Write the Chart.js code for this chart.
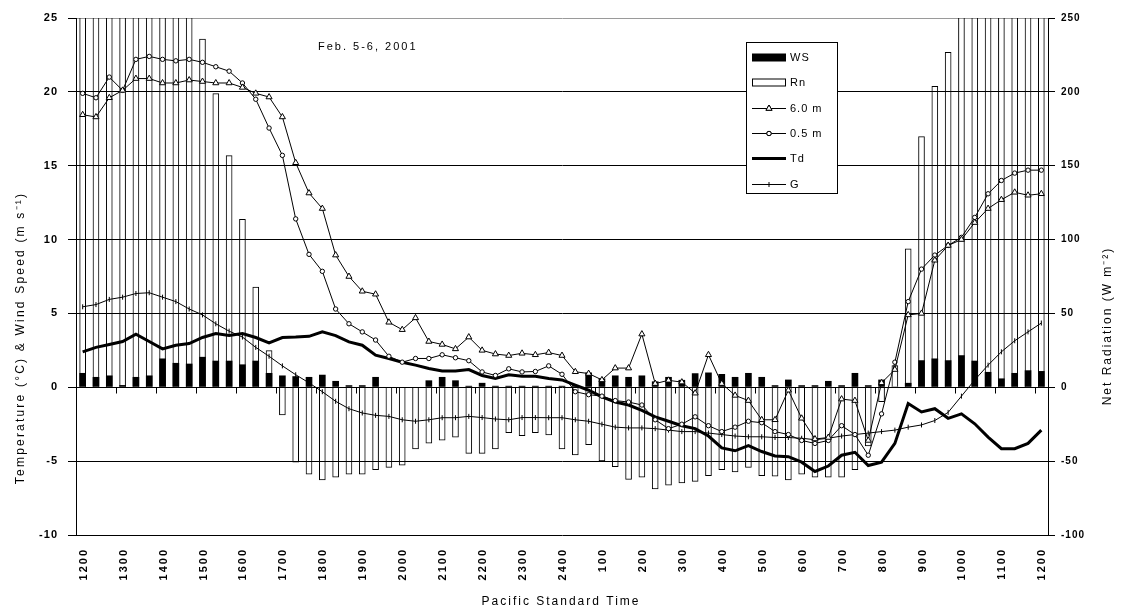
<!DOCTYPE html>
<html>
<head>
<meta charset="utf-8">
<script src="https://cdn.jsdelivr.net/npm/chart.js@4.4.1/dist/chart.umd.min.js"></script>
<style>
  html, body { margin: 0; padding: 0; background: #fff; }
  canvas { display: block; }
</style>
</head>
<body>
<canvas id="c" width="1125" height="613"></canvas>
<script>
// 20-minute observations, Feb. 5-6, 2001 (Pacific Standard Time)
const times = ['1200','1220','1240','1300','1320','1340','1400','1420','1440','1500','1520','1540',
  '1600','1620','1640','1700','1720','1740','1800','1820','1840','1900','1920','1940',
  '2000','2020','2040','2100','2120','2140','2200','2220','2240','2300','2320','2340',
  '2400','0020','0040','0100','0120','0140','0200','0220','0240','0300','0320','0340',
  '0400','0420','0440','0500','0520','0540','0600','0620','0640','0700','0720','0740',
  '0800','0820','0840','0900','0920','0940','1000','1020','1040','1100','1120','1140','1200 '];

// hourly tick labels along the time axis
const hourLabels = ['1200','1300','1400','1500','1600','1700','1800','1900','2000','2100','2200','2300',
  '2400','100','200','300','400','500','600','700','800','900','1000','1100','1200'];

// wind speed (m s-1)
const ws = [0.97,0.7,0.8,0.15,0.7,0.8,1.95,1.65,1.6,2.06,1.8,1.8,
  1.55,1.8,0.97,0.8,0.75,0.7,0.85,0.43,0.14,0.14,0.7,0,
  0,0,0.47,0.7,0.47,0.1,0.3,0.1,0.1,0.1,0.1,0.1,
  0.1,0.15,1.0,0.6,0.8,0.7,0.8,0.4,0.7,0.5,0.95,1.0,
  0.9,0.7,0.97,0.7,0.14,0.52,0.14,0.14,0.43,0.14,0.97,0.14,
  0.52,0.05,0.3,1.83,1.95,1.83,2.17,1.8,1.04,0.6,0.97,1.15,1.1];

// net radiation (W m-2)
const rn = [340,345,345,340,330,320,305,290,275,236,199,157,
  114,68,25,-19,-51,-59,-63,-61,-59,-59,-56,-54.5,
  -53,-42,-38,-36,-34,-45,-45,-42,-31,-33,-31,-32.5,
  -42,-46,-39,-50,-54,-62.6,-61,-69,-66.5,-65,-64,-60,
  -56,-57.5,-54.5,-60,-60.4,-63,-59,-61,-61,-61,-56,-40,
  -10,15,94,170,204,227,262,285,305,320,332,342,348];

// air temperature at 6.0 m (deg C)
const t60 = [18.45,18.3,19.6,20.1,20.9,20.9,20.6,20.6,20.8,20.7,20.6,20.6,
  20.3,19.9,19.65,18.3,15.2,13.15,12.1,8.95,7.5,6.5,6.3,4.4,
  3.9,4.7,3.1,2.9,2.6,3.4,2.5,2.25,2.15,2.3,2.2,2.35,
  2.15,1.05,0.93,0.5,1.3,1.3,3.6,0.25,0.47,0.35,-0.4,2.2,
  0.25,-0.55,-0.9,-2.2,-2.2,-0.2,-2.1,-3.5,-3.4,-0.8,-0.9,-3.6,
  0.3,1.2,4.9,5.0,8.6,9.6,10.0,11.15,12.1,12.7,13.2,13.0,13.1];

// air temperature at 0.5 m (deg C)
const t05 = [19.9,19.6,21.0,20.1,22.2,22.4,22.2,22.1,22.2,22.0,21.7,21.4,
  20.6,19.5,17.55,15.7,11.4,9.0,7.85,5.3,4.3,3.75,3.2,2.1,
  1.7,1.95,1.95,2.2,2.0,1.8,1.04,0.8,1.25,1.04,1.07,1.45,
  0.88,-0.3,-0.5,-0.6,-0.9,-1.0,-1.2,-2.2,-2.8,-2.5,-2.0,-2.6,
  -3.0,-2.7,-2.3,-2.4,-3.0,-3.2,-3.6,-3.8,-3.6,-2.6,-3.2,-4.6,
  -1.8,1.7,5.8,8.0,8.95,9.6,10.15,11.5,13.1,14.0,14.5,14.7,14.7];

// dew point temperature (deg C)
const td = [2.4,2.7,2.9,3.1,3.6,3.1,2.6,2.85,2.96,3.37,3.64,3.5,
  3.64,3.37,3.0,3.37,3.4,3.45,3.75,3.5,3.07,2.85,2.17,1.95,
  1.7,1.5,1.27,1.1,1.1,1.2,0.8,0.6,0.85,0.75,0.75,0.6,
  0.5,0.14,-0.2,-0.65,-1.0,-1.2,-1.56,-2.0,-2.3,-2.6,-2.8,-3.3,
  -4.1,-4.3,-3.95,-4.35,-4.65,-4.7,-5.07,-5.7,-5.33,-4.6,-4.4,-5.3,
  -5.07,-3.8,-1.1,-1.67,-1.45,-2.1,-1.8,-2.47,-3.37,-4.16,-4.16,-3.8,-2.9];

// ground temperature (deg C)
const g = [5.45,5.6,5.95,6.1,6.35,6.4,6.1,5.8,5.3,4.9,4.3,3.8,
  3.4,2.7,2.1,1.45,0.85,0.3,-0.3,-0.95,-1.45,-1.74,-1.9,-1.97,
  -2.2,-2.3,-2.2,-2.06,-2.06,-1.97,-2.05,-2.15,-2.2,-2.05,-2.05,-2.06,
  -2.06,-2.2,-2.3,-2.5,-2.7,-2.75,-2.75,-2.8,-2.9,-3.0,-3.0,-3.1,
  -3.2,-3.3,-3.35,-3.35,-3.4,-3.4,-3.45,-3.55,-3.45,-3.3,-3.2,-3.1,
  -3.0,-2.9,-2.7,-2.55,-2.25,-1.7,-0.6,0.5,1.5,2.4,3.15,3.75,4.35];

const FONT = "'Liberation Sans', Arial, sans-serif";
const INK = '#000';

function drawRotated(ctx, text, x, y, align) {
  ctx.save();
  ctx.translate(x, y);
  ctx.rotate(-Math.PI / 2);
  ctx.textAlign = align;
  ctx.fillText(text, 0, 0);
  ctx.restore();
}

const decor = {
  id: 'decor',
  beforeDraw(chart) {
    chart.ctx.letterSpacing = '1px';
  },
  beforeDatasetsDraw(chart) {
    // hour tick marks hanging from the zero line
    const { ctx, scales: { x, y } } = chart;
    const y0 = Math.round(y.getPixelForValue(0)) + 0.5;
    const half = (x.getPixelForValue(1) - x.getPixelForValue(0)) / 2;
    ctx.save();
    ctx.strokeStyle = INK;
    ctx.lineWidth = 1;
    ctx.beginPath();
    hourLabels.forEach((_, k) => {
      const px = Math.round(x.getPixelForValue(3 * k) - half) + 0.5;
      ctx.moveTo(px, y0);
      ctx.lineTo(px, y0 + 6);
    });
    ctx.stroke();
    ctx.restore();
  },
  afterDraw(chart) {
    const { ctx, scales: { x } } = chart;
    ctx.save();
    ctx.fillStyle = INK;

    // hourly labels, vertical
    ctx.font = 'bold 11px ' + FONT;
    ctx.letterSpacing = '2px';
    ctx.textBaseline = 'middle';
    hourLabels.forEach((lab, k) => {
      drawRotated(ctx, lab, x.getPixelForValue(3 * k) + 1, 548, 'right');
    });

    // axis titles
    ctx.font = '12px ' + FONT;
    ctx.letterSpacing = '2px';
    ctx.textAlign = 'center';
    ctx.fillText('Pacific Standard Time', 561, 602);
    ctx.letterSpacing = '2.2px';
    drawRotated(ctx, 'Temperature (\u00B0C) & Wind Speed (m s\u207B\u00B9)', 21, 338, 'center');
    ctx.letterSpacing = '2px';
    drawRotated(ctx, 'Net Radiation (W m\u207B\u00B2)', 1108, 326, 'center');

    // date
    ctx.font = '11px ' + FONT;
    ctx.letterSpacing = '2px';
    ctx.textAlign = 'left';
    ctx.fillText('Feb. 5-6, 2001', 318, 47);

    // legend
    const bx = 746.5, by = 42.5, bw = 91, bh = 151;
    ctx.fillStyle = '#fff';
    ctx.fillRect(bx, by, bw, bh);
    ctx.strokeStyle = INK;
    ctx.lineWidth = 1;
    ctx.strokeRect(bx, by, bw, bh);
    ctx.fillStyle = INK;
    ctx.font = '11px ' + FONT;
    ctx.letterSpacing = '1px';
    ctx.textAlign = 'left';
    ctx.textBaseline = 'middle';
    const x0 = 752, x1 = 786, xm = 769;
    chart.data.datasets.forEach((ds) => {
      const k = ds.legendRank;
      const yy = Math.round(57 + 25.3 * k) + 0.5;
      ctx.strokeStyle = INK;
      ctx.fillStyle = INK;
      if (ds.type === 'bar') {
        if (ds.backgroundColor === INK) {
          ctx.fillRect(x0, yy - 4, x1 - x0, 8);
        } else {
          ctx.strokeRect(x0 + 0.5, yy - 3.5, x1 - x0 - 1, 7);
        }
      } else {
        ctx.lineWidth = ds.borderWidth;
        ctx.beginPath();
        ctx.moveTo(x0, yy);
        ctx.lineTo(x1, yy);
        ctx.stroke();
        if (ds.pointRadius > 0) {
          Chart.helpers.drawPoint(ctx, {
            pointStyle: ds.pointStyle,
            radius: ds.pointRadius,
            rotation: ds.pointRotation || 0,
            borderWidth: 1
          }, xm, yy);
          ctx.fillStyle = '#fff';
          ctx.strokeStyle = INK;
          ctx.lineWidth = 1;
          if (ds.pointStyle !== 'line') {
            ctx.fill();
            ctx.stroke();
          }
        }
      }
      ctx.fillStyle = INK;
      ctx.fillText(ds.label, 790, yy);
    });
    ctx.restore();
  }
};

const lineBase = {
  type: 'line',
  yAxisID: 'y',
  borderColor: INK,
  borderWidth: 1,
  pointBorderColor: INK,
  pointBackgroundColor: '#fff',
  pointBorderWidth: 1,
  pointHoverRadius: 0,
  tension: 0,
  order: 1
};

new Chart(document.getElementById('c'), {
  type: 'bar',
  data: {
    labels: times,
    datasets: [
      { type: 'bar', label: 'WS', legendRank: 0, data: ws, yAxisID: 'y', backgroundColor: INK,
        borderWidth: 0, grouped: false, barPercentage: 0.5, categoryPercentage: 1, order: 2 },
      { type: 'bar', label: 'Rn', legendRank: 1, data: rn, yAxisID: 'y2', backgroundColor: 'rgba(255,255,255,0)',
        borderColor: INK, borderWidth: 1, grouped: false, barPercentage: 0.5, categoryPercentage: 1, order: 3 },
      Object.assign({}, lineBase, { label: '6.0 m', legendRank: 2, data: t60, pointStyle: 'triangle', pointRadius: 3.5 }),
      Object.assign({}, lineBase, { label: '0.5 m', legendRank: 3, data: t05, pointStyle: 'circle', pointRadius: 2.2 }),
      Object.assign({}, lineBase, { label: 'Td', legendRank: 4, data: td, borderWidth: 3, pointRadius: 0 }),
      Object.assign({}, lineBase, { label: 'G', legendRank: 5, data: g, pointStyle: 'line', pointRotation: 90, pointRadius: 2.5 })
    ]
  },
  options: {
    responsive: false,
    animation: false,
    events: [],
    layout: { padding: { top: 18, left: 0, right: 0, bottom: 0 } },
    plugins: { legend: { display: false }, tooltip: { enabled: false } },
    scales: {
      x: {
        offset: true,
        grid: { display: false, drawTicks: false },
        border: { display: false },
        ticks: { display: false },
        afterFit(s) { s.height = 78; }
      },
      y: {
        position: 'left',
        min: -10, max: 25,
        ticks: { stepSize: 5, color: INK, padding: 10, font: { family: FONT, size: 11, weight: 'bold' } },
        grid: {
          color: (c) => (c.tick && c.tick.value === 25 ? '#9a9a9a' : INK),
          lineWidth: 1, tickColor: INK, tickLength: 8
        },
        border: { color: INK, width: 1 },
        afterFit(s) { s.width = 76; }
      },
      y2: {
        position: 'right',
        min: -100, max: 250,
        ticks: { stepSize: 50, color: INK, padding: 6, font: { family: FONT, size: 10, weight: 'bold' } },
        grid: { drawOnChartArea: false, tickColor: INK, tickLength: 7 },
        border: { color: INK, width: 1 },
        afterFit(s) { s.width = 77; }
      }
    }
  },
  plugins: [decor]
});
</script>
